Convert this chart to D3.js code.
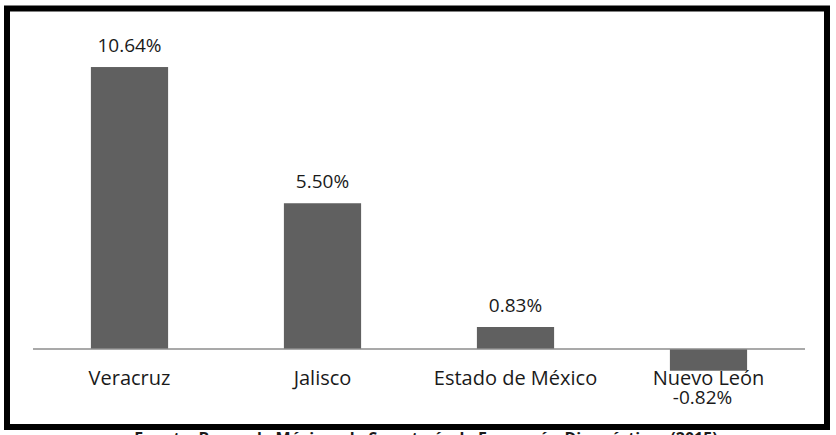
<!DOCTYPE html>
<html>
<head>
<meta charset="utf-8">
<script src="https://cdn.jsdelivr.net/npm/d3@7"></script>
<style>
  html, body { margin: 0; padding: 0; background: #fff; }
  svg { display: block; }
  text { font-family: "Open Sans", "Noto Sans", sans-serif; fill: #1a1a1a; }
</style>
</head>
<body>
<script>
const categories = ["Veracruz", "Jalisco", "Estado de México", "Nuevo León"];
const values = [10.64, 5.50, 0.83, -0.82];
const valueLabels = ["10.64%", "5.50%", "0.83%", "-0.82%"];
const sourceNote = "Fuente: Banco de México y la Secretaría de Economía, Diagnósticos (2015)";

const W = 836, H = 435;
const svg = d3.select("body").append("svg").attr("width", W).attr("height", H);

// frame
svg.append("rect")
  .attr("x", 7).attr("y", 8.5).attr("width", 820).attr("height", 418.5)
  .attr("fill", "#fff").attr("stroke", "#000").attr("stroke-width", 6);

const x = d3.scaleBand().domain(categories).range([33, 805])
  .paddingInner(0.6).paddingOuter(0.3);
const y = d3.scaleLinear().domain([-2, 12]).range([402, 31]);

const data = categories.map((c, i) => ({ c, v: values[i], label: valueLabels[i] }));

// bars
svg.selectAll("rect.bar").data(data).enter().append("rect")
  .attr("class", "bar")
  .attr("x", d => x(d.c))
  .attr("width", x.bandwidth())
  .attr("y", d => y(Math.max(0, d.v)))
  .attr("height", d => Math.abs(y(d.v) - y(0)))
  .attr("fill", "#606060");

// baseline axis
svg.append("line")
  .attr("x1", 33).attr("x2", 805)
  .attr("y1", y(0)).attr("y2", y(0))
  .attr("stroke", "#8c8c8c").attr("stroke-width", 1.5);

// category labels
svg.selectAll("text.cat").data(data).enter().append("text")
  .attr("class", "cat")
  .attr("x", d => x(d.c) + x.bandwidth() / 2)
  .attr("y", 385)
  .attr("text-anchor", "middle")
  .attr("font-size", 20)
  .text(d => d.c);

// value labels
svg.selectAll("text.val").data(data).enter().append("text")
  .attr("class", "val")
  .attr("x", d => x(d.c) + x.bandwidth() / 2 + (d.v < 0 ? -6 : 0))
  .attr("y", d => d.v >= 0 ? y(d.v) - 15 : y(d.v) + 33)
  .attr("text-anchor", "middle")
  .attr("font-size", 19)
  .text(d => d.label);

// source note, clipped at bottom edge
svg.append("text")
  .attr("x", 426).attr("y", 444)
  .attr("text-anchor", "middle")
  .attr("font-size", 16)
  .attr("font-weight", "bold")
  .text(sourceNote);
</script>
</body>
</html>
